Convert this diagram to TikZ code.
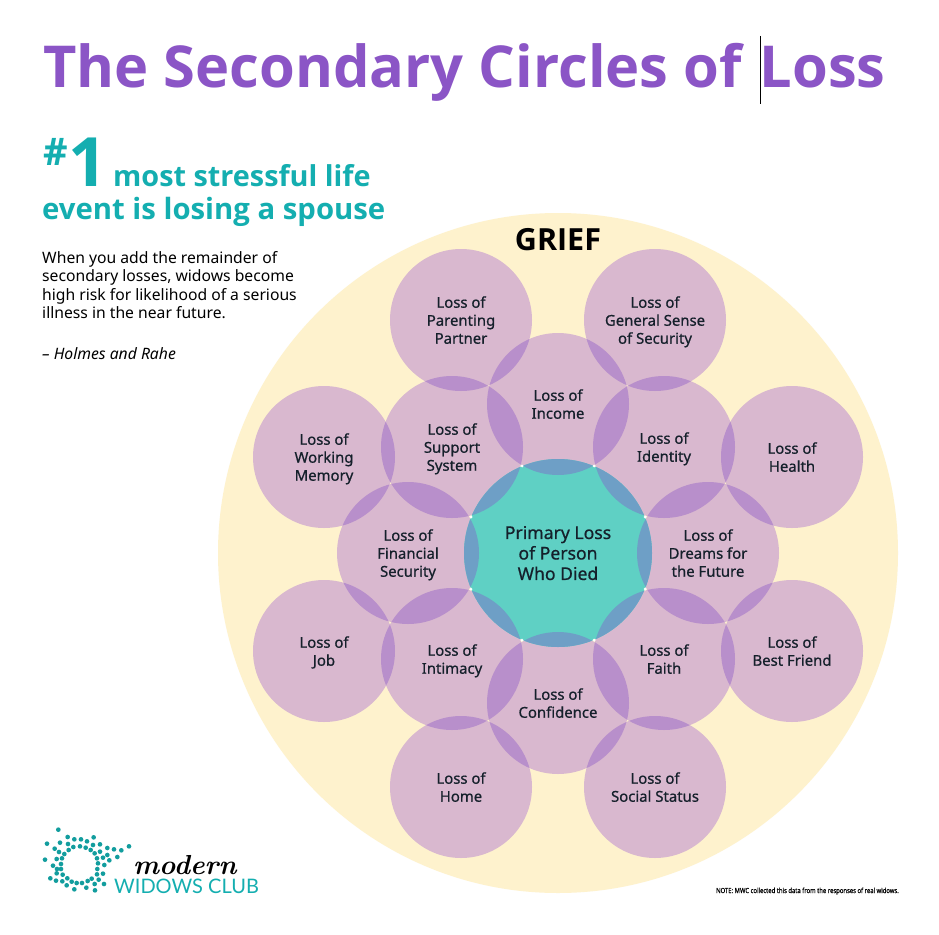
\documentclass[tikz,border=0pt]{standalone}
\usepackage{fontspec}
\usepackage{xcolor}
\newfontfamily\notofont{Noto Sans}
\newfontfamily\boldfont{Open Sans}
\newfontfamily\notomed[FakeBold=0.7]{Noto Sans}
\newfontfamily\notonarrow[FakeStretch=0.84,FakeBold=0.4]{Noto Sans}
\newfontfamily\latofont{Lato}
\definecolor{griefC}{HTML}{FEF2CD}
\definecolor{lossC}{HTML}{D9B8CF}
\definecolor{lensC}{HTML}{B88FCB}
\definecolor{primaryC}{HTML}{5FD0C4}
\definecolor{blueC}{HTML}{6E9FC6}
\definecolor{titleC}{HTML}{8B55C6}
\definecolor{tealC}{HTML}{14AEB0}
\definecolor{inkC}{HTML}{15202B}

\begin{document}
\begin{tikzpicture}[
    x=1pt, y=-1pt,
    loss/.style={circle, fill=lossC, minimum size=142pt, inner sep=0pt, align=center,
                text=inkC, font=\notomed\fontsize{14.9}{18}\selectfont, text depth=0pt},
    primary/.style={circle, fill=primaryC, minimum size=188pt, inner sep=0pt, align=center,
                text=inkC, font=\notomed\fontsize{17.6}{20.5}\selectfont, text depth=0pt},
    lens/.style={fill=lensC},
    logodot/.style={fill=tealC!90!black},
    title/.style={anchor=base west, inner sep=0pt, text=titleC, font=\boldfont\bfseries\fontsize{57.8}{60}\selectfont},
    headline/.style={anchor=base west, inner sep=0pt, text=tealC, font=\boldfont\bfseries\fontsize{29}{30}\selectfont},
    body/.style={anchor=north west, inner sep=0pt, align=left, text=black, font=\notofont\fontsize{15.7}{18.4}\selectfont}
]
\useasboundingbox (0,0) rectangle (939,934);
\fill[white] (0,0) rectangle (939,934);

\node[title] (heading) at (43,88) {The Secondary Circles of \kern3pt Loss};
\coordinate (cursortop) at (760,36);
\coordinate (cursorbot) at (760,104);
\draw[black, line width=0.8pt] (cursortop) -- (cursorbot);

\node[headline, font=\boldfont\bfseries\fontsize{38}{38}\selectfont] (hash) at (43,165) {\#};
\node[headline, font=\boldfont\bfseries\fontsize{68}{68}\selectfont] (one) at (68,186) {1};
\node[headline, font=\boldfont\bfseries\fontsize{28.8}{30}\selectfont] (stat1) at (113,186) {most stressful life};
\node[headline, font=\boldfont\bfseries\fontsize{29.3}{30}\selectfont] (stat2) at (42,219) {event is losing a spouse};
\node[body] (note) at (42,251) {When you add the remainder of\\secondary losses, widows become\\high risk for likelihood of a serious\\illness in the near future.};
\node[body, font=\notofont\itshape\fontsize{15.7}{18}\selectfont] (source) at (42,347) {– Holmes and Rahe};

\node[circle, fill=griefC, minimum size=680pt, inner sep=0pt] (grief) at (558,553) {};
\node[anchor=base, inner sep=0pt, text=black, font=\boldfont\bfseries\fontsize{30.5}{30}\selectfont] (grieflabel) at (558,250) {GRIEF};

\node[loss] (parenting) at (461,320) {Loss of\\Parenting\\Partner};
\node[loss] (security) at (655,320) {Loss of\\General Sense\\of Security};
\node[loss] (memory) at (324,457) {Loss of\\Working\\Memory};
\node[loss] (health) at (792,457) {Loss of\\Health};
\node[loss] (job) at (324,651) {Loss of\\Job};
\node[loss] (friend) at (792,651) {Loss of\\Best Friend};
\node[loss] (home) at (461,787) {Loss of\\Home};
\node[loss] (status) at (655,787) {Loss of\\Social Status};
\node[loss] (income) at (558,404) {Loss of\\Income};
\node[loss] (identity) at (664,447) {Loss of\\Identity};
\node[loss] (dreams) at (708,553) {Loss of\\Dreams for\\the Future};
\node[loss] (faith) at (664,659) {Loss of\\Faith};
\node[loss] (confidence) at (558,703) {Loss of\\Confidence};
\node[loss] (intimacy) at (452,659) {Loss of\\Intimacy};
\node[loss] (financial) at (408,553) {Loss of\\Financial\\Security};
\node[loss] (support) at (452,447) {Loss of\\Support\\System};
\node[primary] (primary) at (558,553) {Primary Loss\\of Person\\Who Died};

\foreach \a/\b in {income/identity, identity/dreams, dreams/faith, faith/confidence,
                   confidence/intimacy, intimacy/financial, financial/support, support/income,
                   parenting/support, parenting/income, security/income, security/identity,
                   health/identity, health/dreams, friend/dreams, friend/faith,
                   status/faith, status/confidence, home/confidence, home/intimacy,
                   job/intimacy, job/financial, memory/financial, memory/support} {
    \begin{scope}
        \clip (\a.center) circle (71);
        \fill[lens] (\b.center) circle (71);
    \end{scope}
}
\foreach \b in {income, identity, dreams, faith, confidence, intimacy, financial, support} {
    \begin{scope}
        \clip (primary.center) circle (94);
        \fill[blueC] (\b.center) circle (71);
    \end{scope}
}
\foreach \dx/\dy in {-36/-87, 36/-87, 87/-36, 87/36, 36/87, -36/87, -87/36, -87/-36} {
    \fill[white] (558+\dx,553+\dy) circle (1.5);
}

\begin{scope}[shift={(20,800)}, scale=0.3333]
\foreach \dx/\dy in {115/89, 143/111, 163/118, 183/118, 201/124, 221/112, 219/135, 240/133,
    81/131, 120/128, 144/132, 160/141, 180/139, 197/143, 104/146, 146/150, 212/150, 262/144,
    282/148, 304/151, 327/139, 117/156, 133/162, 224/160, 240/155, 262/165, 292/171, 75/179,
    110/177, 126/175, 231/175, 249/173, 268/181, 123/192, 99/197, 234/190, 253/195, 111/207,
    123/207, 232/207, 128/224, 110/220, 231/223, 249/221, 142/235, 91/235, 108/242, 127/244,
    155/245, 170/249, 186/249, 203/243, 215/236, 236/239, 224/252, 252/252, 140/256, 163/268,
    199/263, 225/271} {
    \fill[logodot] (\dx,\dy) circle (7);
}
\end{scope}
\node[anchor=base west, inner sep=0pt, text=black, font=\rmfamily\bfseries\itshape\fontsize{27.5}{28}\selectfont] (modern) at (133,874) {modern};
\node[anchor=base west, inner sep=0pt, text=tealC, font=\latofont\fontsize{20}{20}\selectfont] (club) at (114,893) {WIDOWS CLUB};
\node[anchor=base east, inner sep=0pt, text=black, font=\notonarrow\fontsize{7}{7}\selectfont] (fineprint) at (899,893) {NOTE: MWC collected this data from the responses of real widows.};
\end{tikzpicture}
\end{document}
